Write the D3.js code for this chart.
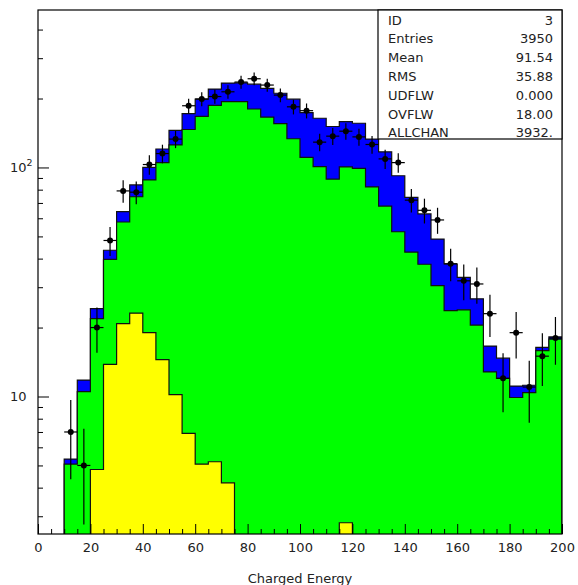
<!DOCTYPE html>
<html><head><meta charset="utf-8">
<script src="https://cdn.jsdelivr.net/npm/d3@7"></script>
<style>
html,body{margin:0;padding:0;background:#fff;}
svg{display:block;font-family:"DejaVu Sans",sans-serif;}
</style></head><body>
<svg id="c" width="578" height="585"></svg>
<script>
// ---- data (bins of width 5 from 0 to 200) ----
const binStart = [0,5,10,15,20,25,30,35,40,45,50,55,60,65,70,75,80,85,90,95,
                  100,105,110,115,120,125,130,135,140,145,150,155,160,165,170,175,180,185,190,195];
const binWidth = 5;
const blueMC = [0,0,5.33,11.8,24.2,43.5,64.1,83.9,100,120.4,145.3,171.8,198.7,220,233.5,234,231,221.7,210.9,198.7,
                173.5,164,151,158.5,156,133,117,92,74,62.7,48.7,37.9,33.1,26.7,16.6,14.7,11.1,11.2,16.4,18.2];
const greenMC = [0,0,5.07,10.5,21.9,39.7,57.8,74.5,88.2,105,125.4,146.5,167,186.5,194,194,180,166,155.5,133.5,
                 110.7,100.8,89,100.5,99,82.2,67.8,52.4,42.7,37.8,30.5,23.7,23.9,20.5,12.8,12.0,9.9,10.4,15.85,17.8];
const yellowMC = [0,0,0,0,4.8,13.8,20.8,23.1,19.0,14.5,10.2,6.9,5.07,5.19,4.2,0,0,0,0,0,
                  0,0,0,2.81,0,0,0,0,0,0,0,0,0,0,0,0,0,0,0,0];
const dataCounts = [0,0,7,5,20,48,79,78,103,115,133,186,199,204,214,236,244,229,207,184,
                    177,129,137,144,136,126,109,105,72,65,59,38,32,31,23,12,19,11,15,18];
const xMajorTicks = [0,20,40,60,80,100,120,140,160,180,200];
const xTickLabels = ["0","20","40","60","80","100","120","140","160","180","200"];
const xMinorTicks = [5,10,15,25,30,35,45,50,55,65,70,75,85,90,95,105,110,115,125,130,135,145,150,155,165,170,175,185,190,195];
const yMajorTicks = [10,100];
const yMinorTicks = [3,4,5,6,7,8,9,20,30,40,50,60,70,80,90,200,300,400];
const statsLabels = ["ID","Entries","Mean","RMS","UDFLW","OVFLW","ALLCHAN"];
const statsValues = ["3","3950","91.54","35.88","0.000","18.00","3932."];
const xTitle = "Charged Energy";

// ---- layout ----
const L=38, R=562, T=10, B=534;
const svg = d3.select("#c");
const x = d3.scaleLinear().domain([0,200]).range([L,R]);
const y = d3.scaleLog().domain([2.51,487]).range([B,T]);
const ymin = y.domain()[0];

svg.append("defs").append("clipPath").attr("id","plotclip")
  .append("rect").attr("x",L).attr("y",T).attr("width",R-L).attr("height",B-T);

const plot = svg.append("g").attr("clip-path","url(#plotclip)");

function stepPath(vals){
  const pts=[];
  const n=vals.length;
  pts.push([x(binStart[0]), B+3]);
  vals.forEach((v,i)=>{
    const yy = v>ymin ? y(v) : B+3;
    pts.push([x(binStart[i]), yy]);
    pts.push([x(binStart[i]+binWidth), yy]);
  });
  pts.push([x(binStart[n-1]+binWidth), B+3]);
  return d3.line()(pts);
}

[[blueMC,"#0000ff"],[greenMC,"#00ff00"],[yellowMC,"#ffff00"]].forEach(([vals,col])=>{
  plot.append("path").attr("d",stepPath(vals))
    .attr("fill",col).attr("stroke","#111").attr("stroke-width",1.2)
    .attr("stroke-linejoin","miter");
});

// data points with errors
const pts = plot.append("g");
dataCounts.forEach((c,i)=>{
  if(c<=0) return;
  const cx = x(binStart[i]+binWidth/2);
  const e = Math.sqrt(c);
  const lo = c-e > ymin ? y(c-e) : B+3;
  const hi = y(c+e);
  pts.append("line").attr("x1",cx).attr("x2",cx).attr("y1",lo).attr("y2",hi)
    .attr("stroke","#000").attr("stroke-width",1.2);
  pts.append("line").attr("x1",x(binStart[i])).attr("x2",x(binStart[i]+binWidth))
    .attr("y1",y(c)).attr("y2",y(c)).attr("stroke","#000").attr("stroke-width",1.2);
  pts.append("circle").attr("cx",cx).attr("cy",y(c)).attr("r",3).attr("fill","#000");
});

// axes
function styleAxis(g){ g.select(".domain").remove(); g.selectAll("line").attr("stroke","#000"); }
svg.append("g").attr("transform",`translate(0,${B})`)
  .call(d3.axisBottom(x).tickValues(xMinorTicks).tickSize(-5).tickFormat(""))
  .call(styleAxis);
svg.append("g").attr("transform",`translate(0,${B})`)
  .call(d3.axisBottom(x).tickValues(xMajorTicks).tickSize(-10).tickPadding(9)
        .tickFormat((d,i)=>xTickLabels[i]))
  .call(styleAxis)
  .call(g=>g.selectAll("text").attr("font-size",13).attr("font-family","DejaVu Sans, sans-serif").attr("fill","#222"));
svg.append("g").attr("transform",`translate(${L},0)`)
  .call(d3.axisLeft(y).tickValues(yMinorTicks).tickSize(-5).tickFormat(""))
  .call(styleAxis);
svg.append("g").attr("transform",`translate(${L},0)`)
  .call(d3.axisLeft(y).tickValues(yMajorTicks).tickSize(-11).tickFormat(""))
  .call(styleAxis);

// y labels
yMajorTicks.forEach(v=>{
  const exp = Math.round(Math.log10(v));
  const t = svg.append("text").attr("x",10).attr("y",y(v)+4.7)
    .attr("font-size",13).attr("fill","#222").text("10");
  if(exp>1){
    t.append("tspan").attr("dy",-6.5).attr("font-size",9.5).text(String(exp));
  }
});

// frame
svg.append("rect").attr("x",L).attr("y",T).attr("width",R-L).attr("height",B-T)
  .attr("fill","none").attr("stroke","#000").attr("stroke-width",1.2);

// stats box
const bx=378, by=T, bw=R-378, bh=129;
svg.append("rect").attr("x",bx).attr("y",by).attr("width",bw).attr("height",bh)
  .attr("fill","#fff").attr("stroke","#000").attr("stroke-width",1.2);
statsLabels.forEach((lab,i)=>{
  const yy = 24.5 + i*18.8;
  svg.append("text").attr("x",388).attr("y",yy).attr("font-size",13).attr("fill","#222").text(lab);
  svg.append("text").attr("x",553).attr("y",yy).attr("font-size",13).attr("fill","#222")
    .attr("text-anchor","end").text(statsValues[i]);
});

// x title
svg.append("text").attr("x",(L+R)/2).attr("y",583).attr("text-anchor","middle")
  .attr("font-size",13).attr("fill","#222").text(xTitle);
</script>
</body></html>
